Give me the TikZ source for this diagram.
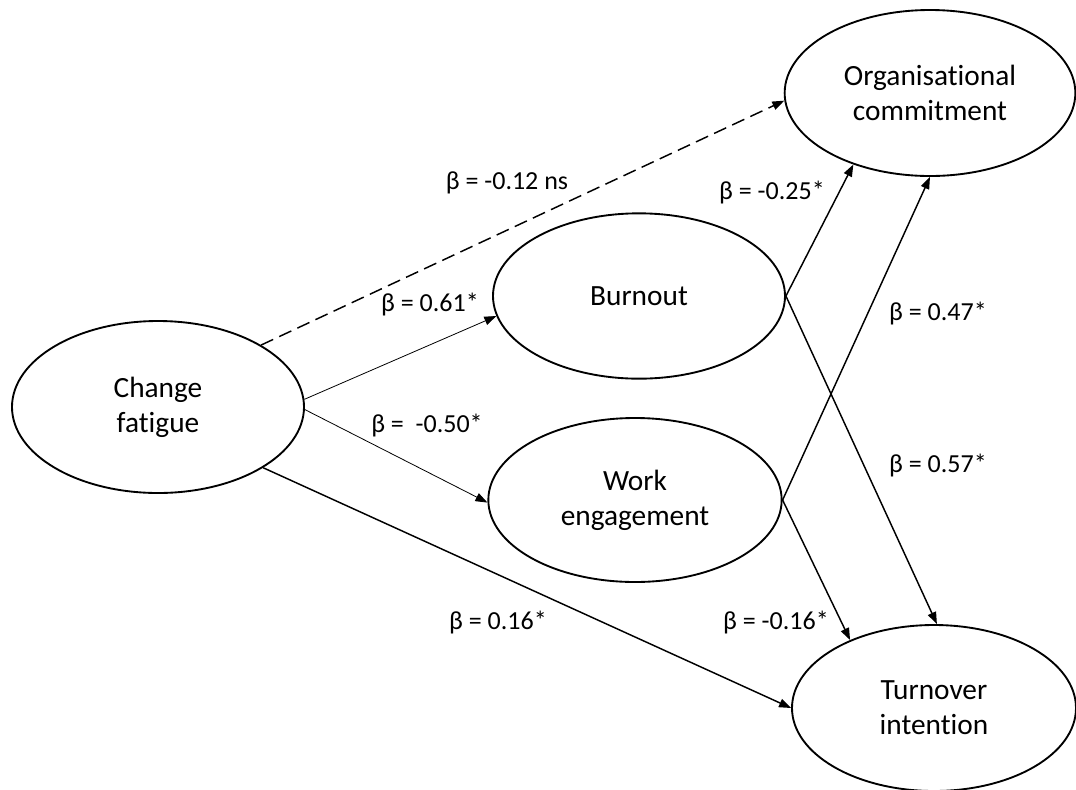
\documentclass[tikz,border=0pt]{standalone}
\usepackage{fontspec}
\setmainfont{Carlito}[Ligatures=NoCommon]
\usetikzlibrary{arrows.meta,shapes.geometric}
\begin{document}
\begin{tikzpicture}[x=0.75pt,y=-0.75pt,
  latent/.style={draw,ellipse,line width=1.4pt,inner sep=0pt,align=center,
    font=\fontsize{22}{26}\selectfont},
  path/.style={line width=1.1pt,-{Triangle[length=9pt,width=6.5pt]}},
  thinpath/.style={line width=0.6pt,-{Triangle[length=9pt,width=6.5pt]}},
  nspath/.style={path,dash pattern=on 10pt off 5pt},
  coef/.style={inner sep=0pt,font=\fontsize{19.5}{23}\selectfont}]
\useasboundingbox (0,0) rectangle (1076,790);
\node[latent,minimum width=219pt,minimum height=129pt] (cf) at (158,407) {Change\\fatigue};
\node[latent,minimum width=219pt,minimum height=124pt] (bo) at (639,296) {Burnout};
\node[latent,minimum width=220pt,minimum height=123pt] (we) at (635,500) {Work\\engagement};
\node[latent,minimum width=218pt,minimum height=124.5pt] (oc) at (930,93) {Organisational\\commitment};
\node[latent,minimum width=213pt,minimum height=124.5pt] (ti) at (934,708) {Turnover\\intention};

\draw[nspath] (cf.31) -- (oc.183);
\draw[thinpath] (cf.3) -- (bo.188);
\draw[thinpath] (cf.-1) -- (we.181);
\draw[path] (cf.-30) -- (ti.west);
\draw[path] (bo.east) -- (oc.-137);
\draw[path] (bo.east) -- (ti.88);
\draw[path] (we.east) -- (oc.-90);
\draw[path] (we.east) -- (ti.141);

\node[coef] (l1) at (507,183) {β = -0.12 ns};
\node[coef] (l2) at (430,305) {β = 0.61*};
\node[coef] (l3) at (772,193) {β = -0.25*};
\node[coef] (l4) at (938,314) {β = 0.47*};
\node[coef] (l5) at (427,426) {β =\ \ -0.50*};
\node[coef] (l6) at (938,466) {β = 0.57*};
\node[coef] (l7) at (498,623) {β = 0.16*};
\node[coef] (l8) at (776,623) {β = -0.16*};
\end{tikzpicture}
\end{document}
